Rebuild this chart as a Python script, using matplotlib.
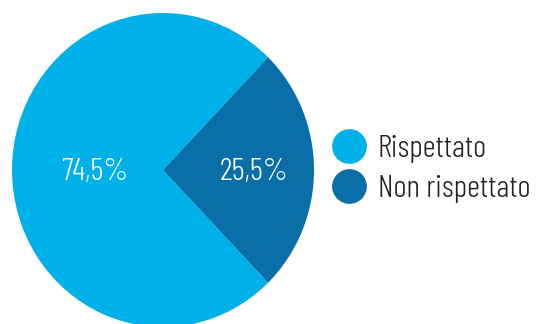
import matplotlib.pyplot as plt
from matplotlib.lines import Line2D

# dati
categorie = ['Rispettato', 'Non rispettato']
valori = [74.5, 25.5]
colori = ['#00B0E8', '#0A6FA8']

plt.rcParams['font.family'] = ['Barlow Condensed', 'DejaVu Sans']
plt.rcParams['font.weight'] = 300

fig = plt.figure(figsize=(5.43, 3.24), dpi=100)
# assi che coprono il riquadro della torta (leggermente ellittica)
ax = fig.add_axes([12 / 543, (324 - 327) / 324, 302 / 543, 314 / 324])

wedges, texts, autotexts = ax.pie(
    valori, colors=colori, startangle=45.9, radius=1,
    autopct=lambda p: f'{p:.1f}%'.replace('.', ','),
    pctdistance=0.5, textprops=dict(color='white', fontsize=23),
    wedgeprops=dict(linewidth=0))
ax.set_aspect('auto')
ax.set_xlim(-1, 1)
ax.set_ylim(-1, 1)

# posizione delle etichette come nel grafico originale
autotexts[0].set_position((-0.45, -0.01))
autotexts[1].set_position((0.60, -0.01))

handles = [Line2D([], [], marker='o', linestyle='', markersize=24,
                  markerfacecolor=c, markeredgecolor=c) for c in colori]
fig.legend(handles, categorie, loc='center left',
           bbox_to_anchor=(317 / 543, 1 - 169 / 324), frameon=False,
           fontsize=23, labelcolor='#222222', handletextpad=0.3,
           labelspacing=0.35, handlelength=1.2, borderaxespad=0)

fig.savefig('out.png', dpi=100)
